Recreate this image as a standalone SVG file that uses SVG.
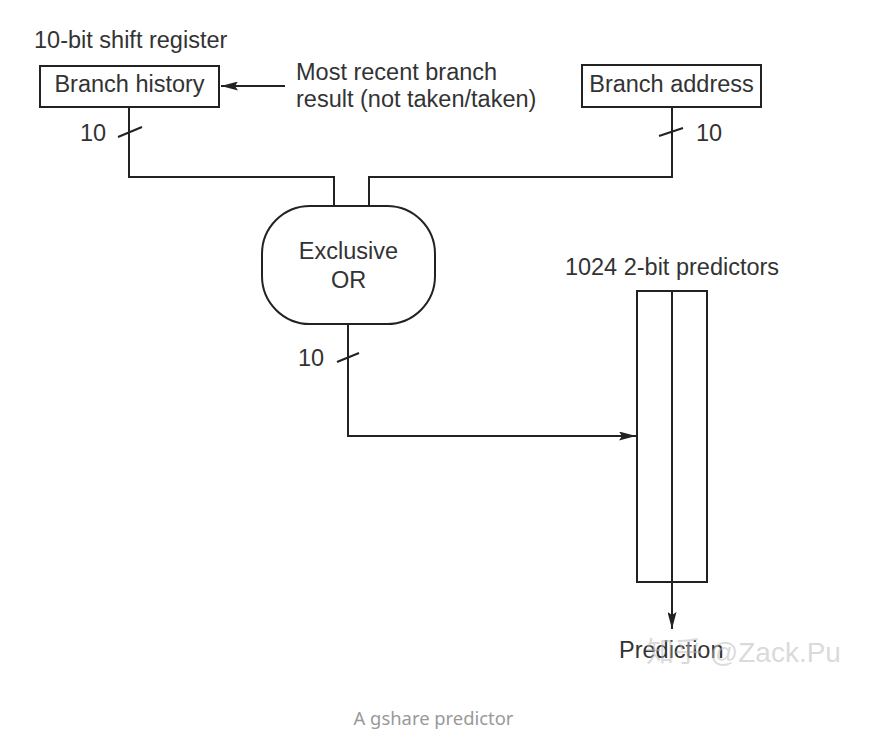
<svg xmlns="http://www.w3.org/2000/svg" width="886" height="742" viewBox="0 0 886 742">
<defs>
<style>
.t{font-family:"Liberation Sans",Arial,sans-serif;font-size:23.5px;fill:#333}
.ln{fill:none;stroke:#222;stroke-width:2}
.box{fill:#fff;stroke:#222;stroke-width:2}
.cap{font-family:"Noto Sans","Liberation Sans",sans-serif;font-size:18.4px;fill:#999}
.wm{font-family:"Liberation Sans","Noto Sans CJK SC",sans-serif;font-size:28px;fill:#bbb;fill-opacity:0.55}
</style>
<marker id="ah" viewBox="0 0 17 9" refX="17" refY="4.5" markerWidth="17" markerHeight="9" markerUnits="userSpaceOnUse" orient="auto">
<path d="M0,0 L17,4.5 L0,9 L3,4.5 Z" fill="#222"/>
</marker>
</defs>
<rect width="886" height="742" fill="#fff"/>
<g id="connectors">
<path class="ln" d="M129,107 V177 H334 V207"/>
<path class="ln" d="M672,107 V177 H369 V207"/>
<path class="ln" d="M285,86 H221" marker-end="url(#ah)"/>
<path class="ln" d="M348,324 V436 H636" marker-end="url(#ah)"/>
<path class="ln" d="M672,582 V629" marker-end="url(#ah)"/>
<path class="ln" stroke-width="1.5" d="M118,137 L142,127"/>
<path class="ln" stroke-width="1.5" d="M659,136 L683,128"/>
<path class="ln" stroke-width="1.5" d="M337,362 L359,353"/>
<text class="t" x="80" y="141">10</text>
<text class="t" x="696" y="141">10</text>
<text class="t" x="298" y="366">10</text>
</g>
<g id="branch-history">
<text class="t" x="34" y="48">10-bit shift register</text>
<rect class="box" x="40" y="66" width="179" height="41"/>
<text class="t" x="129.5" y="92" text-anchor="middle">Branch history</text>
</g>
<g id="recent-result">
<text class="t" x="296" y="79.5">Most recent branch</text>
<text class="t" x="296" y="107">result (not taken/taken)</text>
</g>
<g id="branch-address">
<rect class="box" x="582" y="65" width="179" height="42"/>
<text class="t" x="671.5" y="92" text-anchor="middle">Branch address</text>
</g>
<g id="xor">
<rect class="box" x="262" y="206" width="173" height="118" rx="48" ry="48"/>
<text class="t" x="348.5" y="259" text-anchor="middle">Exclusive</text>
<text class="t" x="348.5" y="288" text-anchor="middle">OR</text>
</g>
<g id="predictors">
<text class="t" x="672" y="275" text-anchor="middle">1024 2-bit predictors</text>
<rect class="box" x="637" y="291" width="70" height="291"/>
<path class="ln" d="M672,291 V582"/>
</g>
<g id="prediction">
<text class="t" x="619" y="658">Prediction</text>
</g>
<text class="wm" x="646" y="662">知乎 @Zack.Pu</text>
<text class="cap" x="433.5" y="725" text-anchor="middle">A gshare predictor</text>
</svg>
